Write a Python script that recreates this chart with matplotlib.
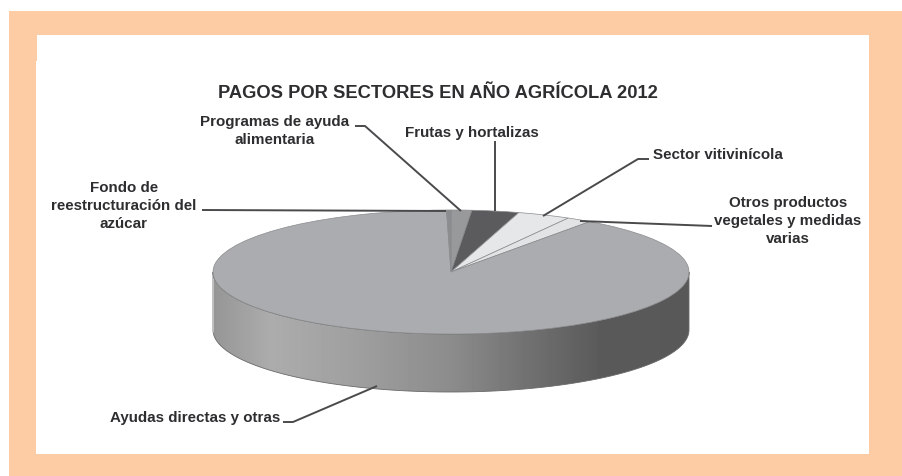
import numpy as np
import matplotlib
matplotlib.use("Agg")
import matplotlib.pyplot as plt
from matplotlib.patches import Polygon, Rectangle

plt.rcParams['font.family'] = ['Liberation Sans', 'DejaVu Sans']

# Shares in percent, clockwise from the top of the pie
categories = ["Programas de ayuda\nalimentaria", "Frutas y hortalizas", "Sector vitivinícola",
              "Otros productos\nvegetales y medidas\nvarias", "Ayudas directas y otras",
              "Fondo de\nreestructuración del\nazúcar"]
values = [1.4, 3.2, 3.6, 1.7, 89.8, 0.3]
slice_colors = ["#98999B", "#5B5B5E", "#E6E7E8", "#E2E3E4", "#ABACAF", "#8C8D90"]
title = "PAGOS POR SECTORES EN AÑO AGRÍCOLA 2012"

W, H = 902, 477
fig = plt.figure(figsize=(W / 100, H / 100), dpi=100, facecolor="white")
bg = fig.add_axes([0, 0, 1, 1])
bg.set_xlim(0, W); bg.set_ylim(H, 0); bg.axis("off")
bg.add_patch(Rectangle((9, 12), W - 9, H - 12, fc="#FDCBA4", ec="none", zorder=0))
bg.add_patch(Rectangle((36, 36), 833, 419, fc="white", ec="none", zorder=1))
bg.add_patch(Rectangle((36, 36), 1, 26, fc="#FDCBA4", ec="none", zorder=1))

cx, cy, rx, ry, depth = 451, 273, 238, 62, 58

# side wall
t = np.linspace(0, np.pi, 300)
xs = cx + rx * np.cos(t)
ys = cy + ry * np.sin(t)
wall = np.r_[np.c_[xs, ys + depth], np.c_[xs[::-1], ys[::-1]]]
stops_x = [214, 270, 350, 450, 530, 600, 688]
stops_g = [150, 172, 160, 140, 112, 90, 88]
grad = np.interp(np.arange(214, 689), stops_x, stops_g)[None, :] / 255
im = bg.imshow(grad, cmap="gray", vmin=0, vmax=1, extent=(214, 689, cy + ry + depth, cy), aspect="auto", zorder=2)
poly = Polygon(wall, closed=True, fc="none", ec="#6A6A6C", lw=0.6, zorder=3)
bg.add_patch(poly)
im.set_clip_path(poly)
bg.set_xlim(0, W); bg.set_ylim(H, 0)

# top face
pie_ax = fig.add_axes([(cx - rx) / W, 1 - (cy + ry) / H, 2 * rx / W, 2 * ry / H])
wedges, _ = pie_ax.pie(values, colors=slice_colors, startangle=90, counterclock=False, radius=1,
                       wedgeprops=dict(edgecolor="#8A8B8D", linewidth=0.5))
pie_ax.set_aspect("auto")
pie_ax.set_xlim(-1, 1); pie_ax.set_ylim(-1, 1)
pie_ax.patch.set_alpha(0)
bg.set_zorder(0)
pie_ax.set_zorder(1)

over = fig.add_axes([0, 0, 1, 1]); over.set_xlim(0, W); over.set_ylim(H, 0); over.axis("off"); over.set_zorder(2)
txt = dict(fontweight="bold", color="#2E2E30", fontsize=10.9, linespacing=1.37, ha="center", va="center")
over.text(437.5, 93.5, title, ha="center", va="center", fontweight="bold", color="#2E2E30", fontsize=13.25)
over.text(275, 131, categories[0], **txt)
over.text(472, 133.5, categories[1], **txt)
over.text(718, 155, categories[2], **txt)
over.text(788, 221, categories[3], **txt)
over.text(195, 418, categories[4], **txt)
over.text(124, 206, categories[5], **txt)

lines = [
    ([355, 365, 461], [127, 127, 212]),
    ([495, 495], [142, 212]),
    ([649, 638, 543], [160, 160, 217]),
    ([712, 580], [227, 222]),
    ([202, 446], [211, 212]),
    ([283, 293, 377], [423, 423, 387]),
]
for lx, ly in lines:
    over.plot(lx, ly, color="#4A4A4C", lw=1.4, solid_capstyle="butt")

fig.savefig("out.png", dpi=100, facecolor="white")
